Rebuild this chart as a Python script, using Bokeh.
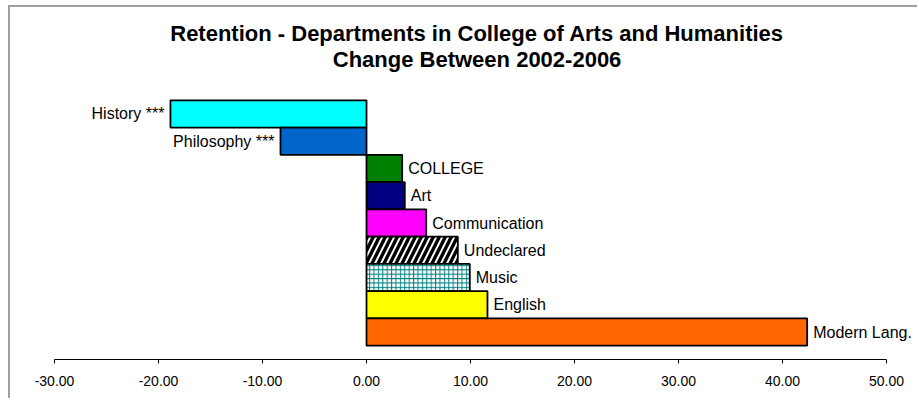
from bokeh.plotting import figure
from bokeh.models import Range1d, FixedTicker, NumeralTickFormatter, Label
from bokeh.core.properties import value
from bokeh.embed import file_html
from bokeh.resources import INLINE

# ---- data ----
departments = ["History ***", "Philosophy ***", "COLLEGE", "Art", "Communication",
               "Undeclared", "Music", "English", "Modern Lang."]
changes = [-18.85, -8.27, 3.43, 3.68, 5.74, 8.78, 9.93, 11.63, 42.37]
fill_colors = ["#00FFFF", "#0066CC", "#008000", "#000080", "#FF00FF",
               "#FFFFFF", "#FFFFFF", "#FFFF00", "#FF6600"]
hatch_patterns = [" ", " ", " ", " ", " ", "/", "+", " ", " "]
hatch_colors = ["black", "black", "black", "black", "black", "black", "#008080", "black", "black"]
hatch_scales = [6, 6, 6, 6, 6, 12, 4.4, 6, 6]
hatch_weights = [1, 1, 1, 1, 1, 3.4, 1, 1, 1]
x_ticks = [-30, -20, -10, 0, 10, 20, 30, 40, 50]
title_lines = ["Retention - Departments in College of Arts and Humanities",
               "Change Between 2002-2006"]

FONT = "Liberation Sans"
pos = list(range(len(departments)))

p = figure(width=909, height=393, output_backend="svg", toolbar_location=None,
           x_range=Range1d(-34.23, 53.17), y_range=Range1d(9.009, -3.908),
           y_axis_location=None, min_border_left=0, min_border_right=0,
           min_border_top=0, min_border_bottom=41)
p.outline_line_color = None
p.xgrid.visible = False
p.ygrid.visible = False
p.background_fill_color = "white"
p.border_fill_color = "white"
p.margin = (5, 0, 0, 8)
p.styles = {"border-top": "2px solid #a0a0a0", "border-left": "2px solid #a0a0a0"}

for i in pos:
    p.hbar(y=[pos[i]], left=0, right=[changes[i]], height=1.0,
           fill_color=fill_colors[i], line_color="black", line_width=1.8,
           hatch_pattern=hatch_patterns[i], hatch_color=hatch_colors[i],
           hatch_scale=hatch_scales[i], hatch_weight=hatch_weights[i])

pos_idx = [i for i, v in enumerate(changes) if v >= 0]
neg_idx = [i for i, v in enumerate(changes) if v < 0]
p.text(x=[changes[i] for i in pos_idx], y=[pos[i] for i in pos_idx],
       text=[departments[i] for i in pos_idx], x_offset=6,
       text_align="left", text_baseline="middle", text_font=value(FONT),
       text_font_size="16px", text_color="black")
p.text(x=[changes[i] for i in neg_idx], y=[pos[i] for i in neg_idx],
       text=[departments[i] for i in neg_idx], x_offset=-6,
       text_align="right", text_baseline="middle", text_font=value(FONT),
       text_font_size="16px", text_color="black")

# title lines (centered over the chart area)
for line, ty in zip(title_lines, [-2.936, -2.018]):
    p.add_layout(Label(x=10.63, y=ty, text=line, text_align="center",
                       text_baseline="middle", text_font=FONT, text_font_size="22px",
                       text_font_style="bold", text_color="black"))

ax = p.xaxis[0]
ax.ticker = FixedTicker(ticks=x_ticks)
ax.bounds = (x_ticks[0], x_ticks[-1])
ax.formatter = NumeralTickFormatter(format="0.00")
ax.major_label_text_font = FONT
ax.major_label_text_font_size = "14px"
ax.major_label_text_color = "black"
ax.axis_line_color = "black"
ax.axis_line_width = 1
ax.major_tick_line_color = "black"
ax.major_tick_out = 4
ax.major_tick_in = 0
ax.minor_tick_line_color = None
ax.major_label_standoff = 12

open("out.html", "w").write(file_html(p, INLINE))
